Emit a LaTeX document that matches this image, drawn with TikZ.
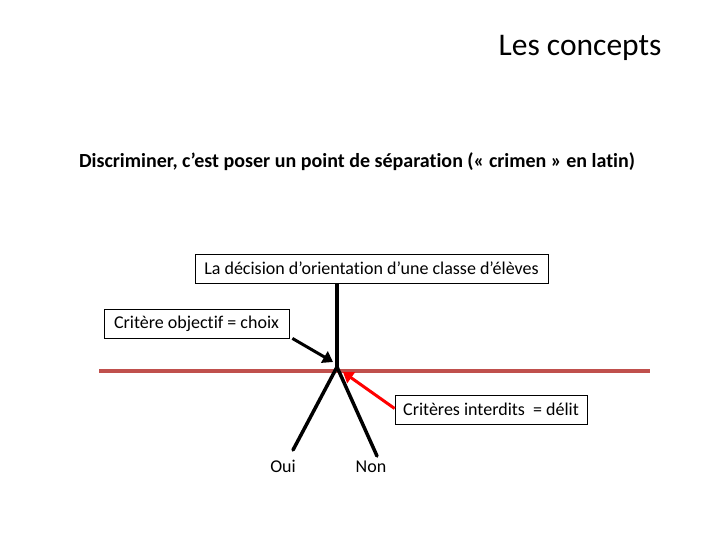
\documentclass[tikz,border=0pt]{standalone}
\usepackage{fontspec}
\setmainfont[Ligatures=NoCommon]{Carlito}
\usetikzlibrary{arrows.meta}
\definecolor{sepred}{HTML}{C0504D}
\tikzset{
  lbox/.style={draw=black, line width=0.8pt, fill=white, inner sep=0pt, minimum height=29pt, font=\fontsize{18}{20}\selectfont, anchor=center},
  stem/.style={line width=3.5pt, black},
  plainlbl/.style={font=\fontsize{18}{20}\selectfont, anchor=base},
}
\begin{document}
\begin{tikzpicture}[x=1pt,y=-1pt]
\useasboundingbox (0,0) rectangle (720,540);
\node[font=\fontsize{31.5}{36}\selectfont, anchor=east] (title) at (665,48) {Les concepts};
\node[font=\fontsize{20}{24}\selectfont\bfseries] (sub) at (357,162) {Discriminer, c’est poser un point de séparation (« crimen » en latin)};
\draw[sepred, line width=4pt] (99,371) -- (650,371);
\node[lbox, minimum width=353pt] (dec) at (371.5,268.5) {La décision d’orientation d’une classe d’élèves};
\node[lbox, minimum width=185pt] (obj) at (196.5,323.5) {Critère objectif = choix};
\node[lbox, minimum width=192pt] (int) at (491,409.5) {Critères interdits\ \ = délit};
\coordinate (fork) at (337,367);
\coordinate (ouiend) at (293,450);
\coordinate (nonend) at (377,456);
\draw[stem] (dec.south -| fork) -- (fork);
\draw[stem, line cap=round] (fork) -- (ouiend);
\draw[stem, line cap=round] (fork) -- (nonend);
\node[plainlbl] (oui) at (283,472) {Oui};
\node[plainlbl] (non) at (371,472) {Non};
\draw[line width=3pt, -{Triangle[length=10pt,width=13pt]}] (obj.south east) ++(3,0) -- (333,362);
\draw[red, line width=3pt, -{Triangle[length=10pt,width=13pt]}] (int.west) ++(0,-1) -- (343,372);
\end{tikzpicture}
\end{document}
